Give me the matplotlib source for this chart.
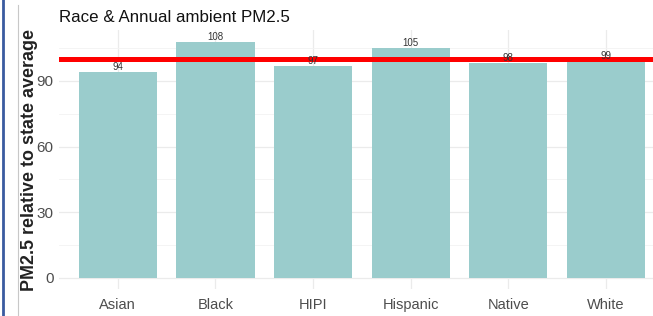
import matplotlib.pyplot as plt
from matplotlib.lines import Line2D

# Daten
groups = ["Asian", "Black", "HIPI", "Hispanic", "Native", "White"]
pm25_rel = [94, 108, 97, 105, 98, 99]
state_avg = 100

plt.rcParams["font.family"] = ["Liberation Sans", "DejaVu Sans"]

fig = plt.figure(figsize=(6.53, 3.16), dpi=100)
ax = fig.add_axes([0.0907, 0.0839, 0.9271, 0.8218])

x = range(len(groups))
ax.bar(x, pm25_rel, width=0.8, color="#9acccc", zorder=2)
ax.axhline(state_avg, color="#ff0000", linewidth=3.6, zorder=3)
for xi, v in zip(x, pm25_rel):
    ax.text(xi, v, str(v), ha="center", va="bottom", fontsize=7, color="#333333", zorder=4)

ax.set_xlim(-0.6, len(groups) - 0.4)
ax.set_ylim(-5.4, 113.4)
ax.set_xticks(list(x))
ax.set_xticklabels(groups)
ax.set_yticks([0, 30, 60, 90])
ax.set_yticks([15, 45, 75, 105], minor=True)
ax.grid(True, which="major", color="#ebebeb", linewidth=0.9, zorder=0)
ax.grid(True, which="minor", axis="y", color="#f3f3f3", linewidth=0.6, zorder=0)
ax.set_axisbelow(True)
for s in ax.spines.values():
    s.set_visible(False)
ax.tick_params(axis="x", which="both", length=0, labelsize=10.5, labelcolor="#4d4d4d", pad=6)
ax.tick_params(axis="y", which="both", length=0, labelsize=11, labelcolor="#4d4d4d", pad=4)

ax.set_ylabel("PM2.5 relative to state average", fontsize=12.9, fontweight="bold", color="#222222", labelpad=-1)
ax.set_title("Race & Annual ambient PM2.5", loc="left", fontsize=12.2, color="#111111", pad=5.6)

# Rahmen vom Screenshot
fig.add_artist(Line2D([3 / 653, 3 / 653], [0, 1], color="#3a5ba0", linewidth=2))
fig.add_artist(Line2D([18 / 653, 18 / 653], [0, 0.985], color="#c8c8c8", linewidth=0.8))

plt.savefig("out.png", dpi=100)
